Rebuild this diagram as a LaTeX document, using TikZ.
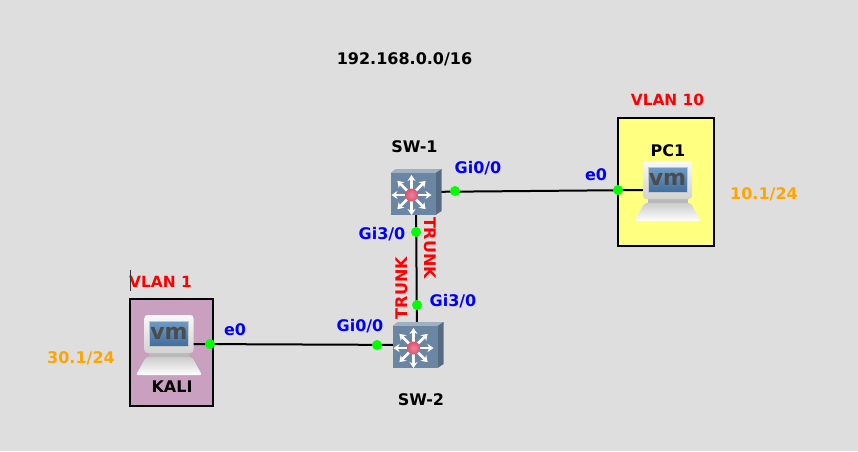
\documentclass[tikz,border=0pt]{standalone}
\usepackage{fontspec}
\setmainfont{DejaVu Sans}
\usetikzlibrary{arrows.meta}

\definecolor{bgGrey}{HTML}{DEDEDE}
\definecolor{pcYellow}{HTML}{FFFF80}
\definecolor{kaliPink}{HTML}{C9A0C0}
\definecolor{labelBlue}{HTML}{0000FF}
\definecolor{labelOrange}{HTML}{FFA500}
\definecolor{dotGreen}{HTML}{00FF00}
\definecolor{swFace}{HTML}{6B86A3}
\definecolor{screenTop}{HTML}{6F9CC4}
\definecolor{screenBottom}{HTML}{3F6F9F}
\definecolor{ledRed}{HTML}{E2506E}

\tikzset{
  txt/.style={font=\fontsize{16}{19}\selectfont\bfseries,inner sep=0},
  devname/.style={txt,black},
  vlan/.style={font=\fontsize{15.4}{19}\selectfont\bfseries,inner sep=0,red},
  port/.style={txt,labelBlue},
  addr/.style={txt,labelOrange},
  trunk/.style={txt,red},
  link/.style={black,line width=2},
  dot/.style={circle,fill=dotGreen,minimum size=10,inner sep=0},
  hostbox/.style={draw=black,line width=2,inner sep=0},
  computer/.pic={
    \fill [gray!55] (-20,18) rectangle (20,24);
    \shade [top color=gray!40,bottom color=white,rounded corners=2] (-23,23) -- (-33,41) -- (33,41) -- (23,23) -- cycle;
    \shade [top color=gray!5,bottom color=gray!35,rounded corners=3] (-24.5,-19) rectangle (24.5,19);
    \shade [top color=screenTop,bottom color=screenBottom,draw=gray!45] (-19.5,-13) rectangle (19.5,12);
    \node [font=\fontsize{22}{22}\selectfont\bfseries,text=black!70,inner sep=0] at (0,-1) {vm};
  },
  switch/.pic={
    \fill [swFace!65!white] (-21,-22) -- (-16,-26) -- (30,-26) -- (24,-22) -- cycle;
    \fill [swFace!80!black] (24,-22) -- (30,-26) -- (30,16) -- (24,20) -- cycle;
    \fill [swFace] (-21,-22) rectangle (24,20);
    \foreach \ang in {0,45,...,315}
      \draw [white,line width=2.6,-{Stealth[length=6,width=8]}] (0,0) -- (\ang:20);
    \shade [inner color=ledRed!70!white,outer color=ledRed] (0,0) circle (6.5);
  }
}

\begin{document}
\begin{tikzpicture}[x=1pt,y=-1pt]

\fill [bgGrey] (0,0) rectangle (858,451);

% host boxes
\node (pcbox) [hostbox,fill=pcYellow,minimum width=96,minimum height=128] at (666,182) {};
\node (kalibox) [hostbox,fill=kaliPink,minimum width=83,minimum height=107] at (171.5,352.5) {};

% link ends
\coordinate (sw1) at (416,192);
\coordinate (sw2) at (417,345);
\coordinate (pc1) at (643,190);
\coordinate (kali) at (193,344);

\draw [link] (sw1) -- (pc1);
\draw [link] (sw1) -- (sw2);
\draw [link] (kali) -- (sw2);

\pic at (411.5,195) {switch};
\pic at (413.5,348) {switch};
\pic at (667.5,180) {computer};
\pic at (169,334) {computer};

% port dots
\node (dotsw1pc) [dot] at (455,191) {};
\node (dotpc) [dot] at (618,190) {};
\node (dotsw1sw2) [dot] at (416,232) {};
\node (dotsw2sw1) [dot] at (417,305) {};
\node (dotsw2kali) [dot] at (377,345) {};
\node (dotkali) [dot] at (210,344) {};

\node (subnet) [devname] at (404.5,59) {192.168.0.0/16};

\node (namesw1) [devname] at (414.5,147) {SW-1};
\node (namesw2) [devname] at (421,400) {SW-2};
\node (namepc) [devname] at (668,151) {PC1};
\node (namekali) [devname] at (172,387) {KALI};

\node (vlanpc) [vlan] at (667.5,100) {VLAN 10};
\node (vlankali) [vlan] at (160.5,282) {VLAN 1};
\draw [black!80,line width=0.8] (130,270) -- (130,291);

\node (addrpc) [addr] at (764,194) {10.1/24};
\node (addrkali) [addr] at (81,358) {30.1/24};

\node (portsw1pc) [port] at (478,168) {Gi0/0};
\node (portpc) [port] at (596,175) {e0};
\node (portsw1sw2) [port] at (382,234) {Gi3/0};
\node (portsw2sw1) [port] at (453,301) {Gi3/0};
\node (portsw2kali) [port] at (360,326) {Gi0/0};
\node (portkali) [port] at (235,330) {e0};

\node (trunkup) [trunk,rotate=-90] at (430.5,248) {TRUNK};
\node (trunkdown) [trunk,rotate=90] at (402,288) {TRUNK};

\end{tikzpicture}
\end{document}
